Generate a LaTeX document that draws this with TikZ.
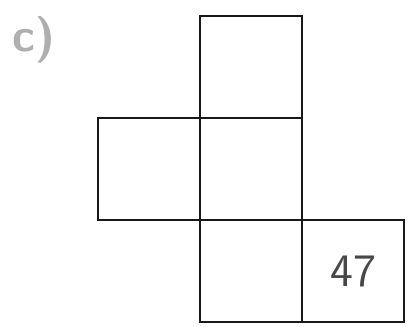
\documentclass[tikz,border=0pt]{standalone}
\usepackage{tikz}
\usetikzlibrary{positioning}
\definecolor{ink}{RGB}{25,25,25}
\definecolor{faded}{RGB}{175,175,175}

\begin{document}
\begin{tikzpicture}[x=1cm, y=-1cm,
  cell/.style={draw=ink, line width=0.6pt, minimum size=1cm, inner sep=0pt, outer sep=0pt, font=\sffamily\fontsize{13}{15}\selectfont, text=ink!80},
  tag/.style={font=\sffamily\bfseries\fontsize{13}{15}\selectfont, text=faded}]
\useasboundingbox (-0.961,-0.157) rectangle (3.098,3.049);
\node[tag] (label) at (-0.63,0.23) {c)};
\foreach \c/\r/\n/\t in {1/0/top/{}, 0/1/left/{}, 1/1/mid/{}, 1/2/low/{}, 2/2/num/{47}}
  { \node[cell] (\n) at (\c+0.5,\r+0.5) {\t}; }
\end{tikzpicture}
\end{document}
